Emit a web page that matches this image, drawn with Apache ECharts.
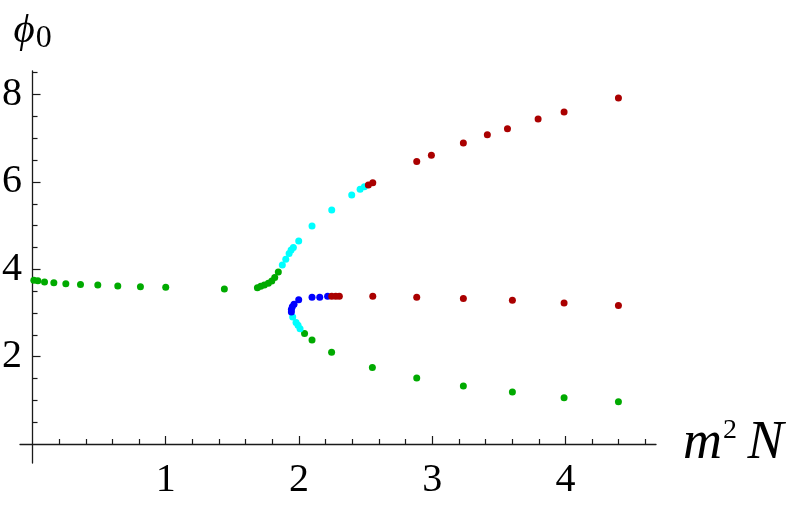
<!DOCTYPE html>
<html><head><meta charset="utf-8">
<script src="https://cdn.jsdelivr.net/npm/echarts@6/dist/echarts.min.js"></script>
<style>html,body{margin:0;padding:0;background:#fff}#c{width:789px;height:509px}</style>
</head><body><div id="c"></div>
<script>
// ---- data ----
const greenPts = [
  [0.01,3.75],[0.04,3.74],[0.09,3.71],[0.16,3.69],[0.25,3.67],[0.36,3.65],[0.49,3.64],
  [0.64,3.62],[0.81,3.60],[1.00,3.59],[1.44,3.55],
  [1.688,3.58],[1.713,3.61],[1.740,3.64],[1.770,3.68],[1.796,3.73],[1.818,3.81],[1.845,3.94],
  [2.042,2.53],[2.098,2.38],[2.245,2.10],[2.551,1.75],[2.884,1.51],[3.234,1.33],
  [3.602,1.19],[3.990,1.06],[4.398,0.97]
];
const cyanPts = [
  [1.875,4.10],[1.901,4.23],[1.926,4.36],[1.941,4.44],[1.958,4.50],[1.998,4.65],
  [2.098,4.99],[2.246,5.36],[2.396,5.70],[2.459,5.83],[2.491,5.89],
  [1.953,2.91],[1.978,2.78],[1.993,2.72],[2.008,2.64]
];
const bluePts = [
  [1.943,3.02],[1.943,3.08],[1.950,3.14],[1.963,3.20],[1.998,3.30],
  [2.098,3.36],[2.156,3.36],[2.215,3.38]
];
const redPts = [
  [2.246,3.38],[2.276,3.38],[2.303,3.38],[2.554,3.38],[2.884,3.36],[3.234,3.33],
  [3.602,3.29],[3.990,3.23],[4.398,3.17],
  [2.521,5.93],[2.554,5.98],[2.884,6.47],[2.994,6.61],[3.234,6.89],[3.414,7.08],
  [3.565,7.22],[3.795,7.44],[3.990,7.60],[4.398,7.92]
];
const xTickLabels = [1,2,3,4];
const yTickLabels = [2,4,6,8];

// minor tick positions (between the labelled ticks)
const xMinor = [], yMinor = [];
for (let i = 1; i <= 23; i++) { if (i % 5) xMinor.push(+(i*0.2).toFixed(1)); }
for (let i = 1; i <= 17; i++) { if (i % 4) yMinor.push(i*0.5); }

const FONT = '"Liberation Serif", "Times New Roman", serif';
const axisCol = '#1a1a1a';

const chart = echarts.init(document.getElementById('c'), null, {renderer:'canvas'});
const xBase = {
  type:'value', min:-0.094, max:4.68, position:'bottom',
  splitLine:{show:false}, minorTick:{show:false},
  axisLine:{show:true, onZero:true, onZeroAxisIndex:0, lineStyle:{color:axisCol, width:1.3}}
};
const yBase = {
  type:'value', min:-0.435, max:8.54, position:'left',
  splitLine:{show:false}, minorTick:{show:false},
  axisLine:{show:true, onZero:true, onZeroAxisIndex:0, lineStyle:{color:axisCol, width:1.3}}
};
const mk = (name, color, data) => ({
  name, type:'scatter', data, symbol:'circle', symbolSize:7,
  itemStyle:{color, borderWidth:0, opacity:1}, xAxisIndex:0, yAxisIndex:0, silent:true
});

chart.setOption({
  animation:false,
  backgroundColor:'#fff',
  grid:{left:20, top:71, width:636, height:392, containLabel:false, outerBoundsMode:'none'},
  xAxis:[
    Object.assign({}, xBase, {
      axisTick:{show:true, inside:true, length:5, customValues:xMinor, lineStyle:{color:axisCol, width:1.2}},
      axisLabel:{show:true, customValues:xTickLabels, margin:-3, color:'#000',
        fontFamily:FONT, fontSize:40},
      name:'{i|m}{sup|2}{sp| }{i|N}', nameLocation:'end', nameGap:27,
      nameTextStyle:{align:'left', verticalAlign:'middle', color:'#000',
        rich:{
          i:{fontFamily:FONT, fontStyle:'italic', fontSize:54, color:'#000'},
          sup:{fontFamily:FONT, fontSize:28, color:'#000', verticalAlign:'top', padding:[0,0,0,1]},
          sp:{fontFamily:FONT, fontSize:42, color:'#000'}
        }}
    }),
    Object.assign({}, xBase, {
      axisLine:Object.assign({}, xBase.axisLine, {show:false}),
      axisTick:{show:true, inside:true, length:8, customValues:xTickLabels, lineStyle:{color:axisCol, width:1.2}},
      axisLabel:{show:false}
    })
  ],
  yAxis:[
    Object.assign({}, yBase, {
      axisTick:{show:true, inside:true, length:5, customValues:yMinor, lineStyle:{color:axisCol, width:1.2}},
      axisLabel:{show:true, customValues:yTickLabels, margin:-2, color:'#000',
        fontFamily:FONT, fontSize:40},
      name:'{p|\u03D5}{s|0}', nameLocation:'end', nameGap:16,
      nameTextStyle:{align:'center', verticalAlign:'bottom', color:'#000',
        rich:{
          p:{fontFamily:FONT, fontStyle:'italic', fontSize:41, color:'#000', verticalAlign:'bottom', padding:[0,1,3,0]},
          s:{fontFamily:FONT, fontSize:32, color:'#000', verticalAlign:'bottom'}
        }}
    }),
    Object.assign({}, yBase, {
      axisLine:Object.assign({}, yBase.axisLine, {show:false}),
      axisTick:{show:true, inside:true, length:8, customValues:yTickLabels, lineStyle:{color:axisCol, width:1.2}},
      axisLabel:{show:false}
    })
  ],
  series:[
    mk('green','#00aa00',greenPts),
    mk('cyan','#00ffff',cyanPts),
    mk('blue','#0000ff',bluePts),
    mk('red','#aa0000',redPts)
  ]
});
</script></body></html>
